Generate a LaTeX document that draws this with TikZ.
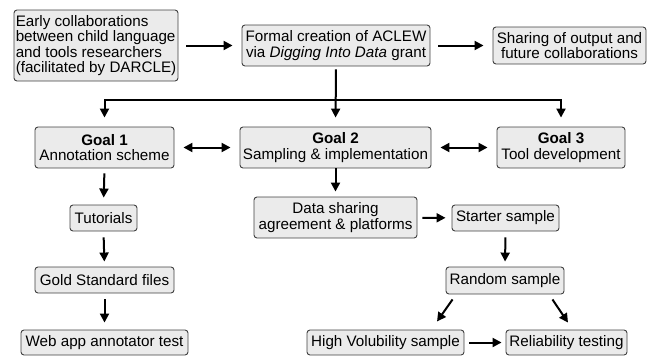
\documentclass[tikz,border=0pt]{standalone}
\usepackage{fontspec}
\setmainfont{Liberation Sans}
\usetikzlibrary{arrows.meta}

\begin{document}
\begin{tikzpicture}[x=1pt,y=-1pt,
    box/.style={draw=black!75, fill=black!8, rounded corners=3pt, line width=0.9pt,
                inner sep=1pt, align=center, font=\fontsize{15.2}{15.5}\selectfont},
    arr/.style={line width=2pt, -{Triangle[length=9pt,width=9pt]}, shorten >=9pt, shorten <=8pt},
    dbl/.style={line width=2pt, {Triangle[length=9pt,width=9pt]}-{Triangle[length=9pt,width=9pt]}, shorten >=9pt, shorten <=9pt}]
    \useasboundingbox (0,0) rectangle (651,356);
    % top row
    \node[box, align=left, minimum width=164pt, minimum height=71pt] (early) at (96,45.5)
        {Early collaborations\\between child language\\and tools researchers\\(facilitated by DARCLE)};
    \node[box, minimum width=188pt, minimum height=41pt] (aclew) at (336,45.5)
        {Formal creation of ACLEW\\via \textit{Digging Into Data} grant};
    \node[box, minimum width=153pt, minimum height=37pt] (sharing) at (569.5,45.5)
        {Sharing of output and\\future collaborations};
    % goals
    \node[box, minimum width=139pt, minimum height=41pt] (goal1) at (104.5,147.5)
        {\textbf{Goal 1}\\Annotation scheme};
    \node[box, minimum width=191pt, minimum height=41pt] (goal2) at (335.5,147.5)
        {\textbf{Goal 2}\\Sampling \& implementation};
    \node[box, minimum width=128pt, minimum height=41pt] (goal3) at (561,147.5)
        {\textbf{Goal 3}\\Tool development};
    % left column
    \node[box, minimum width=67pt, minimum height=26pt] (tutorials) at (103.5,218) {Tutorials};
    \node[box, minimum width=139pt, minimum height=26pt] (gold) at (104.5,280) {Gold Standard files};
    \node[box, minimum width=167pt, minimum height=25pt] (webapp) at (104.5,342.5) {Web app annotator test};
    % samples
    \node[box, minimum width=163pt, minimum height=41pt] (datashare) at (335.5,217.5)
        {Data sharing\\agreement \& platforms};
    \node[box, minimum width=107pt, minimum height=26pt] (starter) at (505.5,218) {Starter sample};
    \node[box, minimum width=118pt, minimum height=27pt] (random) at (505,280.5) {Random sample};
    \node[box, minimum width=157pt, minimum height=25pt] (highvol) at (385.5,342.5) {High Volubility sample};
    \node[box, minimum width=121pt, minimum height=25pt] (reliab) at (566.5,342.5) {Reliability testing};
    \coordinate (split) at (336,100);

    \draw[arr] (early) -- (aclew);
    \draw[arr] (aclew) -- (sharing);
    \draw[arr, shorten <=3pt] (aclew.south) -- (goal2.north);
    \draw[arr, shorten <=0pt] (split) -| (goal1.north);
    \draw[arr, shorten <=0pt] (split) -| (goal3.north);
    \draw[dbl] (goal1) -- (goal2);
    \draw[dbl] (goal2) -- (goal3);
    \draw[arr, shorten <=5pt, shorten >=7pt] (goal1.south) -- (tutorials.north);
    \draw[arr, shorten <=6pt, shorten >=5pt] (tutorials.south) -- (gold.north);
    \draw[arr, shorten <=6pt, shorten >=7pt] (gold.south) -- (webapp.north);
    \draw[arr, shorten <=0pt, shorten >=5pt] (goal2.south) -- (datashare.north);
    \draw[arr, shorten <=5pt, shorten >=6pt] (datashare) -- (starter);
    \draw[arr, shorten <=6pt, shorten >=5pt] (starter.south) -- (random.north);
    \draw[arr, shorten <=0pt, shorten >=0pt] ([xshift=7pt,yshift=-5pt]random.south west) -- ([xshift=51.5pt,yshift=8pt]highvol.north);
    \draw[arr, shorten <=0pt, shorten >=0pt] ([xshift=-12pt,yshift=-5pt]random.south east) -- ([xshift=1.5pt,yshift=7pt]reliab.north);
    \draw[arr, shorten <=5pt, shorten >=4pt] (highvol) -- (reliab);
\end{tikzpicture}
\end{document}
